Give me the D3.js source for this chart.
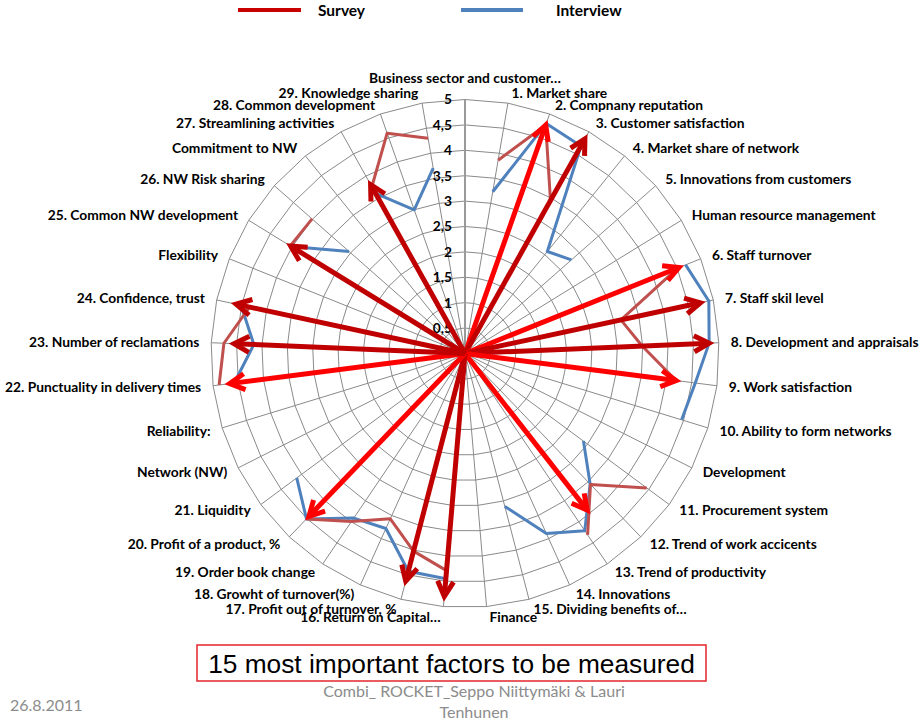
<!DOCTYPE html>
<html>
<head>
<meta charset="utf-8">
<script src="https://cdn.jsdelivr.net/npm/d3@7"></script>
<style>
  body { margin: 0; background: #fff; }
  svg { display: block; }
</style>
</head>
<body>
<svg id="chart" width="921" height="724"></svg>
<script>
// Radar categories, clockwise from the top. Unnumbered entries are group headings.
const categories = [
  "Business sector and customer…",
  "1. Market share",
  "2. Compnany reputation",
  "3. Customer satisfaction",
  "4. Market share of network",
  "5. Innovations from customers",
  "Human resource management",
  "6. Staff turnover",
  "7. Staff skil level",
  "8. Development and appraisals",
  "9. Work satisfaction",
  "10. Ability to form networks",
  "Development",
  "11. Procurement system",
  "12. Trend of work accicents",
  "13. Trend of productivity",
  "14. Innovations",
  "15. Dividing benefits of…",
  "Finance",
  "16. Return on Capital…",
  "17. Profit out of turnover, %",
  "18. Growht of turnover(%)",
  "19. Order book change",
  "20. Profit of a product, %",
  "21. Liquidity",
  "Network (NW)",
  "Reliability:",
  "22. Punctuality in delivery times",
  "23. Number of reclamations",
  "24. Confidence, trust",
  "Flexibility",
  "25. Common NW development",
  "26. NW Risk sharing",
  "Commitment to NW",
  "27.  Streamlining activities",
  "28. Common development",
  "29. Knowledge sharing"
];

// Average scores (1–5); null where a category has no score.
const surveyValues = [
  null, 3.86, 4.77, 3.45, null, null, null,
  4.51, 3.14, 3.49, 4.19, null, null,
  4.45, 3.57, 4.31, null, null, null,
  4.29, 4.02, 3.57, 3.99, 4.51, null, null, null,
  4.88, 4.75, 4.34, null,
  4.04, 4.01, null,
  3.76, 4.60, 4.30
];
const interviewValues = [
  null, 3.23, 4.80, 4.68, 2.58, 2.79, null,
  4.68, 4.91, 4.81, 4.57, 4.46, null,
  2.90, 3.56, 4.21, 3.89, 3.11, null,
  4.45, 4.43, 3.78, 3.91, 4.51, 4.12, null, null,
  4.58, 4.16, 4.51, null,
  4.02, 3.04, null,
  3.61, 3.00, 3.70
];

// Value axis ticks.
const tickValues = [0.5, 1, 1.5, 2, 2.5, 3, 3.5, 4, 4.5, 5];
const tickLabels = ["0,5", "1", "1,5", "2", "2,5", "3", "3,5", "4", "4,5", "5"];

// The 15 most important factors: arrow direction (category position), length (score) and tone.
const keyFactorPositions = [2, 3, 7, 8, 9, 10, 14.6, 19, 20, 23, 27, 28, 29, 31, 34];
const keyFactorValues    = [4.77, 4.84, 4.54, 4.74, 4.81, 4.19, 3.91, 4.80, 4.63, 4.44, 4.67, 4.55, 4.61, 4.03, 3.81];
const keyFactorTones     = ["bright", "dark", "bright", "dark", "dark", "bright", "bright", "dark", "dark", "bright", "bright", "dark", "dark", "dark", "dark"];

const seriesNames = ["Survey", "Interview"];

// ---- layout ----
const cx = 465, cy = 353.5, R = 254;
const colors = {
  survey: "#C0504D",
  interview: "#4F81BD",
  legendSurvey: "#C80000",
  bright: "#FF0000",
  dark: "#C00000",
  grid: "#8A8A8A"
};

const svg = d3.select("#chart");
svg.append("rect").attr("width", 921).attr("height", 724).attr("fill", "#fff");

const n = categories.length;
const angle = d3.scaleLinear().domain([0, n]).range([0, 2 * Math.PI]);
const radius = d3.scaleLinear().domain([0, 5]).range([0, R]);

const plot = svg.append("g").attr("transform", `translate(${cx},${cy})`);

// Grid rings (polygons through every spoke)
const ringLine = d3.lineRadial()
  .angle((d, i) => angle(i))
  .radius(d => radius(d))
  .curve(d3.curveLinearClosed);

plot.append("g").selectAll("path")
  .data(tickValues)
  .join("path")
  .attr("d", v => ringLine(d3.range(n).map(() => v)))
  .attr("fill", "none")
  .attr("stroke", colors.grid)
  .attr("stroke-width", 1);

// Spokes
plot.append("g").selectAll("line")
  .data(d3.range(n))
  .join("line")
  .attr("x1", 0).attr("y1", 0)
  .attr("x2", i => radius(5) * Math.sin(angle(i)))
  .attr("y2", i => -radius(5) * Math.cos(angle(i)))
  .attr("stroke", i => i === 0 ? "#9A9A9A" : colors.grid)
  .attr("stroke-width", i => i === 0 ? 2 : 1);

// Value axis labels
plot.append("g").selectAll("text")
  .data(tickValues)
  .join("text")
  .attr("x", -13)
  .attr("y", v => -radius(v))
  .attr("dy", "0.36em")
  .attr("text-anchor", "end")
  .attr("font-family", "Lato, 'DejaVu Sans', sans-serif")
  .attr("font-weight", "bold")
  .attr("font-size", 13.8)
  .attr("fill", "#000")
  .text((v, i) => tickLabels[i]);

// Category labels
const labelGap = 10;
plot.append("g").selectAll("text")
  .data(categories)
  .join("text")
  .each(function (name, i) {
    const a = angle(i);
    const s = Math.sin(a), c = Math.cos(a);
    const px = (R + labelGap) * s;
    const py = -(R + labelGap) * c;
    const t = d3.select(this);
    if (Math.abs(s) < 0.01) {
      t.attr("x", px).attr("y", -R - 21.5).attr("text-anchor", "middle");
    } else if (s > 0) {
      t.attr("x", px + 2).attr("y", py).attr("text-anchor", "start");
    } else {
      t.attr("x", px - 2).attr("y", py).attr("text-anchor", "end");
    }
  })
  .attr("dy", "0.36em")
  .attr("font-family", "Lato, 'DejaVu Sans', sans-serif")
  .attr("font-weight", "bold")
  .attr("font-size", 13.8)
  .attr("fill", "#000")
  .text(d => d);

// Series lines
const seriesLine = d3.lineRadial()
  .defined(d => d != null)
  .angle((d, i) => angle(i))
  .radius(d => radius(d));

plot.append("path")
  .attr("d", seriesLine(interviewValues))
  .attr("fill", "none")
  .attr("stroke", colors.interview)
  .attr("stroke-width", 3)
  .attr("stroke-linejoin", "round");

plot.append("path")
  .attr("d", seriesLine(surveyValues))
  .attr("fill", "none")
  .attr("stroke", colors.survey)
  .attr("stroke-width", 3)
  .attr("stroke-linejoin", "round");

// Key factor arrows from the centre
const headLen = 17, headAngle = 28 * Math.PI / 180;
const arrows = plot.append("g");
keyFactorPositions.forEach((pos, k) => {
  const a = angle(pos);
  const r = radius(keyFactorValues[k]);
  const tx = r * Math.sin(a), ty = -r * Math.cos(a);
  const col = colors[keyFactorTones[k]];
  const back = a + Math.PI; // direction pointing back toward the centre
  const w1 = [tx + headLen * Math.sin(back + headAngle), ty - headLen * Math.cos(back + headAngle)];
  const w2 = [tx + headLen * Math.sin(back - headAngle), ty - headLen * Math.cos(back - headAngle)];
  arrows.append("line")
    .attr("x1", 0).attr("y1", 0)
    .attr("x2", tx).attr("y2", ty)
    .attr("stroke", col).attr("stroke-width", 5);
  arrows.append("path")
    .attr("d", `M${w1[0]},${w1[1]}L${tx},${ty}L${w2[0]},${w2[1]}`)
    .attr("fill", "none")
    .attr("stroke", col).attr("stroke-width", 5)
    .attr("stroke-linejoin", "miter").attr("stroke-miterlimit", 6);
});

// Legend
const legend = svg.append("g");
const legendItems = [
  { name: seriesNames[0], color: colors.legendSurvey, x1: 238, x2: 301, tx: 318 },
  { name: seriesNames[1], color: colors.interview, x1: 461, x2: 523, tx: 556 }
];
legendItems.forEach(d => {
  legend.append("line")
    .attr("x1", d.x1).attr("x2", d.x2).attr("y1", 10).attr("y2", 10)
    .attr("stroke", d.color).attr("stroke-width", 4);
  legend.append("text")
    .attr("x", d.tx).attr("y", 10).attr("dy", "0.36em")
    .attr("font-family", "Lato, 'DejaVu Sans', sans-serif")
    .attr("font-weight", "bold").attr("font-size", 15.5)
    .attr("fill", "#000")
    .text(d.name);
});

// Caption box
svg.append("rect")
  .attr("x", 197).attr("y", 645).attr("width", 509).attr("height", 36)
  .attr("fill", "#fff").attr("stroke", "#E3262B").attr("stroke-width", 1.5);
svg.append("text")
  .attr("x", 451.5).attr("y", 672.5)
  .attr("text-anchor", "middle")
  .attr("font-family", "'Liberation Sans', Arial, sans-serif")
  .attr("font-size", 26.3)
  .attr("fill", "#000")
  .text("15 most important factors to be measured");

// Footer
const footer = svg.append("g")
  .attr("font-family", "Lato, 'DejaVu Sans', sans-serif")
  .attr("font-size", 16)
  .attr("fill", "#8C8C8C");
footer.append("text").attr("x", 10).attr("y", 711).text("26.8.2011");
footer.append("text").attr("x", 474).attr("y", 697).attr("text-anchor", "middle")
  .text("Combi_ ROCKET_Seppo Niittymäki & Lauri");
footer.append("text").attr("x", 474).attr("y", 718).attr("text-anchor", "middle")
  .text("Tenhunen");
</script>
</body>
</html>
